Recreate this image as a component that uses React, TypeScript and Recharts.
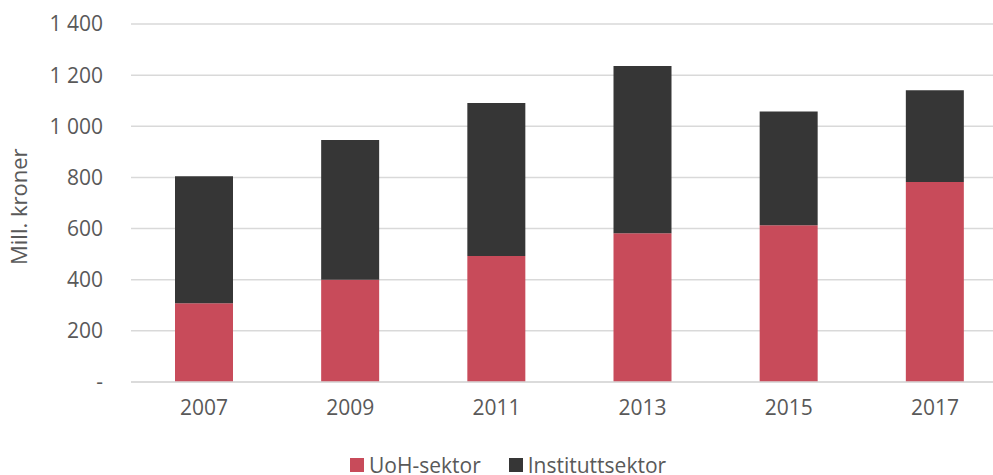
import React from 'react';
import { BarChart, Bar, XAxis, YAxis, CartesianGrid, Legend } from 'recharts';

const years = ['2007', '2009', '2011', '2013', '2015', '2017'];
const uohSektor = [308, 400, 493, 582, 613, 782];
const instituttsektor = [497, 546, 598, 654, 445, 359];
const yTicks = [0, 200, 400, 600, 800, 1000, 1200, 1400];
const seriesNames = ['UoH-sektor', 'Instituttsektor'];
const colors = ['#C84B5A', '#363636'];

const data = years.map((y, i) => ({ year: y, uoh: uohSektor[i], inst: instituttsektor[i] }));

const FONT = "'Open Sans', 'Liberation Sans', sans-serif";
const TEXT = '#595959';

const fmt = (v: number) => {
  if (v === 0) return '-';
  const s = String(v);
  return s.length > 3 ? s.slice(0, s.length - 3) + ' ' + s.slice(-3) : s;
};

const LegendContent = () => (
  <div style={{ display: 'flex', alignItems: 'center', paddingLeft: 350, fontFamily: FONT, fontSize: 21, lineHeight: '20px', color: TEXT }}>
    {seriesNames.map((n, i) => (
      <div key={n} style={{ display: 'flex', alignItems: 'center', marginRight: 28 }}>
        <span style={{ display: 'inline-block', width: 14, height: 14, background: colors[i], marginRight: 5 }} />
        <span>{n}</span>
      </div>
    ))}
  </div>
);

export default function App() {
  return (
    <div style={{ position: 'fixed', left: 0, top: 0, width: 993, height: 475, overflow: 'hidden', background: '#fff' }}>
      <BarChart width={1010} height={475} data={data} margin={{ top: 24, right: 2, left: 0, bottom: 0 }}>
        <CartesianGrid vertical={false} stroke="#d9d9d9" strokeWidth={1.5} />
        <XAxis
          dataKey="year"
          tickLine={false}
          axisLine={{ stroke: '#d9d9d9', strokeWidth: 1.5 }}
          tick={{ fill: TEXT, fontSize: 21, fontFamily: FONT }}
          tickMargin={12}
          height={30}
        />
        <YAxis
          width={131}
          domain={[0, 1400]}
          ticks={yTicks}
          tickFormatter={fmt}
          axisLine={false}
          tickLine={false}
          tickMargin={22}
          tick={{ fill: TEXT, fontSize: 21, fontFamily: FONT }}
          label={{ value: 'Mill. kroner', angle: -90, position: 'insideLeft', dx: 14, dy: 62, style: { fill: TEXT, fontSize: 22, fontFamily: FONT } }}
        />
        <Legend
          verticalAlign="bottom"
          height={63}
          content={<LegendContent />}
          wrapperStyle={{ position: 'absolute', left: 0, top: 455, width: 993 }}
        />
        <Bar dataKey="uoh" name={seriesNames[0]} stackId="a" fill={colors[0]} barSize={58} isAnimationActive={false} />
        <Bar dataKey="inst" name={seriesNames[1]} stackId="a" fill={colors[1]} barSize={58} isAnimationActive={false} />
      </BarChart>
    </div>
  );
}
